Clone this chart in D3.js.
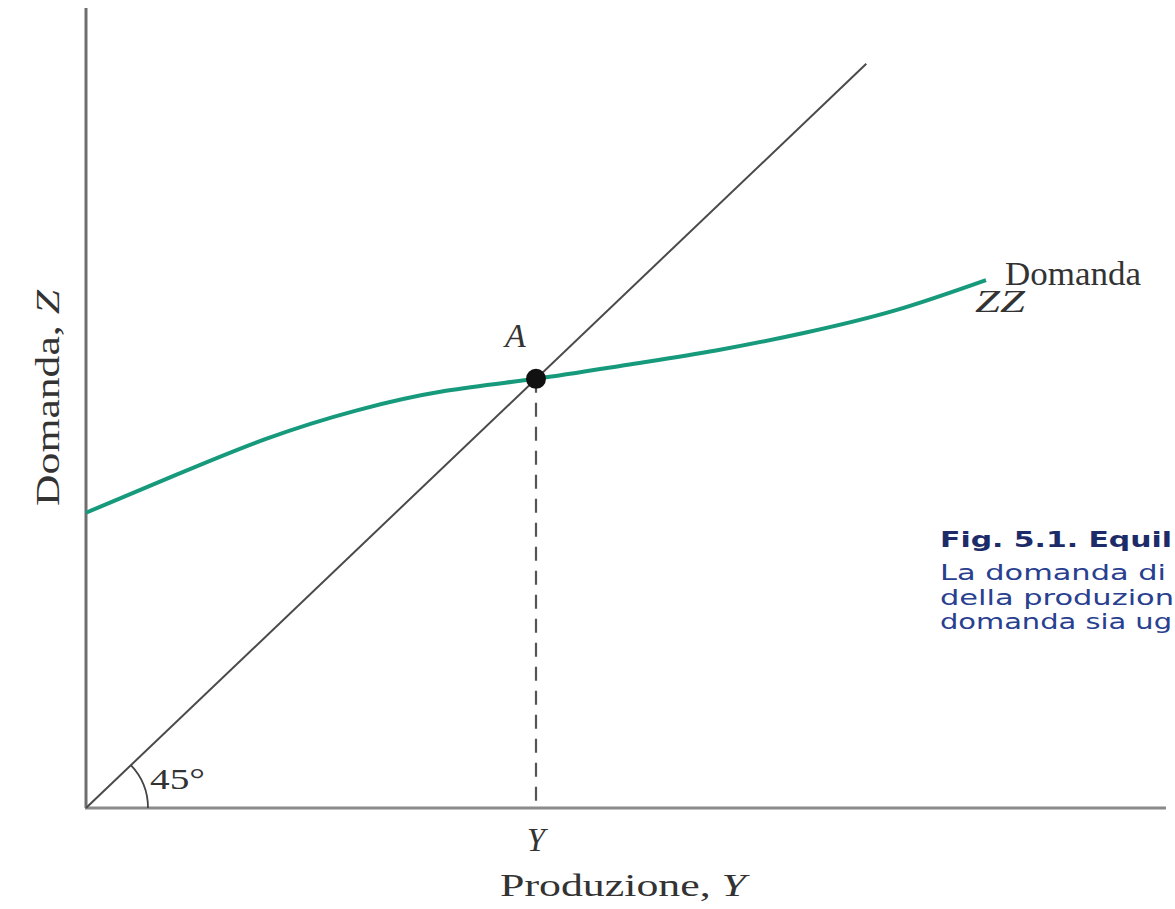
<!DOCTYPE html>
<html><head><meta charset="utf-8">
<script src="https://cdn.jsdelivr.net/npm/d3@7"></script>
<style>body{margin:0;background:#fff;overflow:hidden}svg{display:block}</style>
</head><body>
<svg id="c" width="1175" height="909"></svg>
<script>
// Data (abstract units: equilibrium A at output 50)
const zzX = [0, 10, 20, 30, 40, 50, 60, 70, 80, 90, 100];
const zzY = [34.4, 38.8, 43.0, 46.3, 48.6, 50, 51.6, 53.3, 55.4, 58.0, 61.5];
const line45X = [0, 86.7];
const eqX = 50, eqY = 50;
const captionTitle = "Fig. 5.1. Equil";
const captionLines = ["La domanda di", "della produzion", "domanda sia ug"];

const svg = d3.select("#c");
const x = d3.scaleLinear().domain([0, 120]).range([86, 1166]);
const y = d3.scaleLinear().domain([0, 93.2]).range([808, 8]);
const serif = "'Liberation Serif', 'Times New Roman', serif";

// axes
svg.append("line").attr("x1", x(0)).attr("x2", x(0)).attr("y1", y(93.2)).attr("y2", y(0))
  .attr("stroke", "#6e6e6e").attr("stroke-width", 3);
svg.append("line").attr("x1", x(0) - 1).attr("x2", x(120)).attr("y1", y(0)).attr("y2", y(0))
  .attr("stroke", "#8a8a8a").attr("stroke-width", 3);

// 45 degree line
svg.append("path")
  .datum(line45X.map(v => [v, v]))
  .attr("d", d3.line().x(d => x(d[0])).y(d => y(d[1])))
  .attr("stroke", "#4a4a4a").attr("stroke-width", 2).attr("fill", "none");

// angle arc
const ang = Math.atan2(y(0) - y(10), x(10) - x(0));
const r = 62;
const ox = x(0), oy = y(0);
svg.append("path")
  .attr("d", `M${ox + r},${oy} A${r},${r} 0 0 0 ${ox + r * Math.cos(ang)},${oy - r * Math.sin(ang)}`)
  .attr("stroke", "#444").attr("stroke-width", 1.8).attr("fill", "none");

// dashed vertical
svg.append("line").attr("x1", x(eqX)).attr("x2", x(eqX)).attr("y1", y(eqY)).attr("y2", y(0))
  .attr("stroke", "#555").attr("stroke-width", 2.2).attr("stroke-dasharray", "14,10");

// ZZ curve
svg.append("path")
  .datum(zzX.map((v, i) => [v, zzY[i]]))
  .attr("d", d3.line().x(d => x(d[0])).y(d => y(d[1])).curve(d3.curveNatural))
  .attr("stroke", "#179a7c").attr("stroke-width", 4).attr("fill", "none");

// point A
svg.append("circle").attr("cx", x(eqX)).attr("cy", y(eqY)).attr("r", 10).attr("fill", "#111");

// labels
const txt = (t, px, py, opts = {}) => {
  const e = svg.append("text").attr("x", px).attr("y", py)
    .attr("font-family", serif).attr("font-size", opts.size || 32).attr("fill", "#333")
    .attr("font-style", opts.italic ? "italic" : "normal")
    .attr("text-anchor", opts.anchor || "start").text(t);
  if (opts.len) e.attr("textLength", opts.len).attr("lengthAdjust", "spacingAndGlyphs");
  return e;
};

txt("A", 505, 347, {italic: true, size: 34});
txt("Domanda", 1005, 285, {size: 34, len: 136});
txt("ZZ", 975, 312, {italic: true, size: 32, len: 50});
txt("45°", 150, 789, {size: 30, len: 55});
txt("Y", x(eqX), 851, {italic: true, anchor: "middle", size: 33});
const prod = svg.append("text").attr("x", 500).attr("y", 896)
  .attr("font-family", serif).attr("font-size", 32).attr("fill", "#333")
  .attr("textLength", 246).attr("lengthAdjust", "spacingAndGlyphs");
prod.append("tspan").text("Produzione, ");
prod.append("tspan").attr("font-style", "italic").text("Y");
const dom = svg.append("text").attr("transform", "translate(59,398) rotate(-90)")
  .attr("text-anchor", "middle").attr("font-family", serif).attr("font-size", 33).attr("fill", "#333")
  .attr("textLength", 216).attr("lengthAdjust", "spacingAndGlyphs");
dom.append("tspan").text("Domanda, ");
dom.append("tspan").attr("font-style", "italic").text("Z");

// caption (cut at the right edge in the original)
const cap = "'DejaVu Sans', Verdana, sans-serif";
const capLen = [226, 234, 232];
svg.append("text").attr("x", 940).attr("y", 547).attr("font-family", cap).attr("font-size", 21)
  .attr("font-weight", "bold").attr("fill", "#1d2c68")
  .attr("textLength", 232).attr("lengthAdjust", "spacingAndGlyphs").text(captionTitle);
captionLines.forEach((t, i) => {
  svg.append("text").attr("x", 940).attr("y", 580 + i * 24.5).attr("font-family", cap)
    .attr("font-size", 21).attr("fill", "#28408f")
    .attr("textLength", capLen[i]).attr("lengthAdjust", "spacingAndGlyphs").text(t);
});
</script>
</body></html>
